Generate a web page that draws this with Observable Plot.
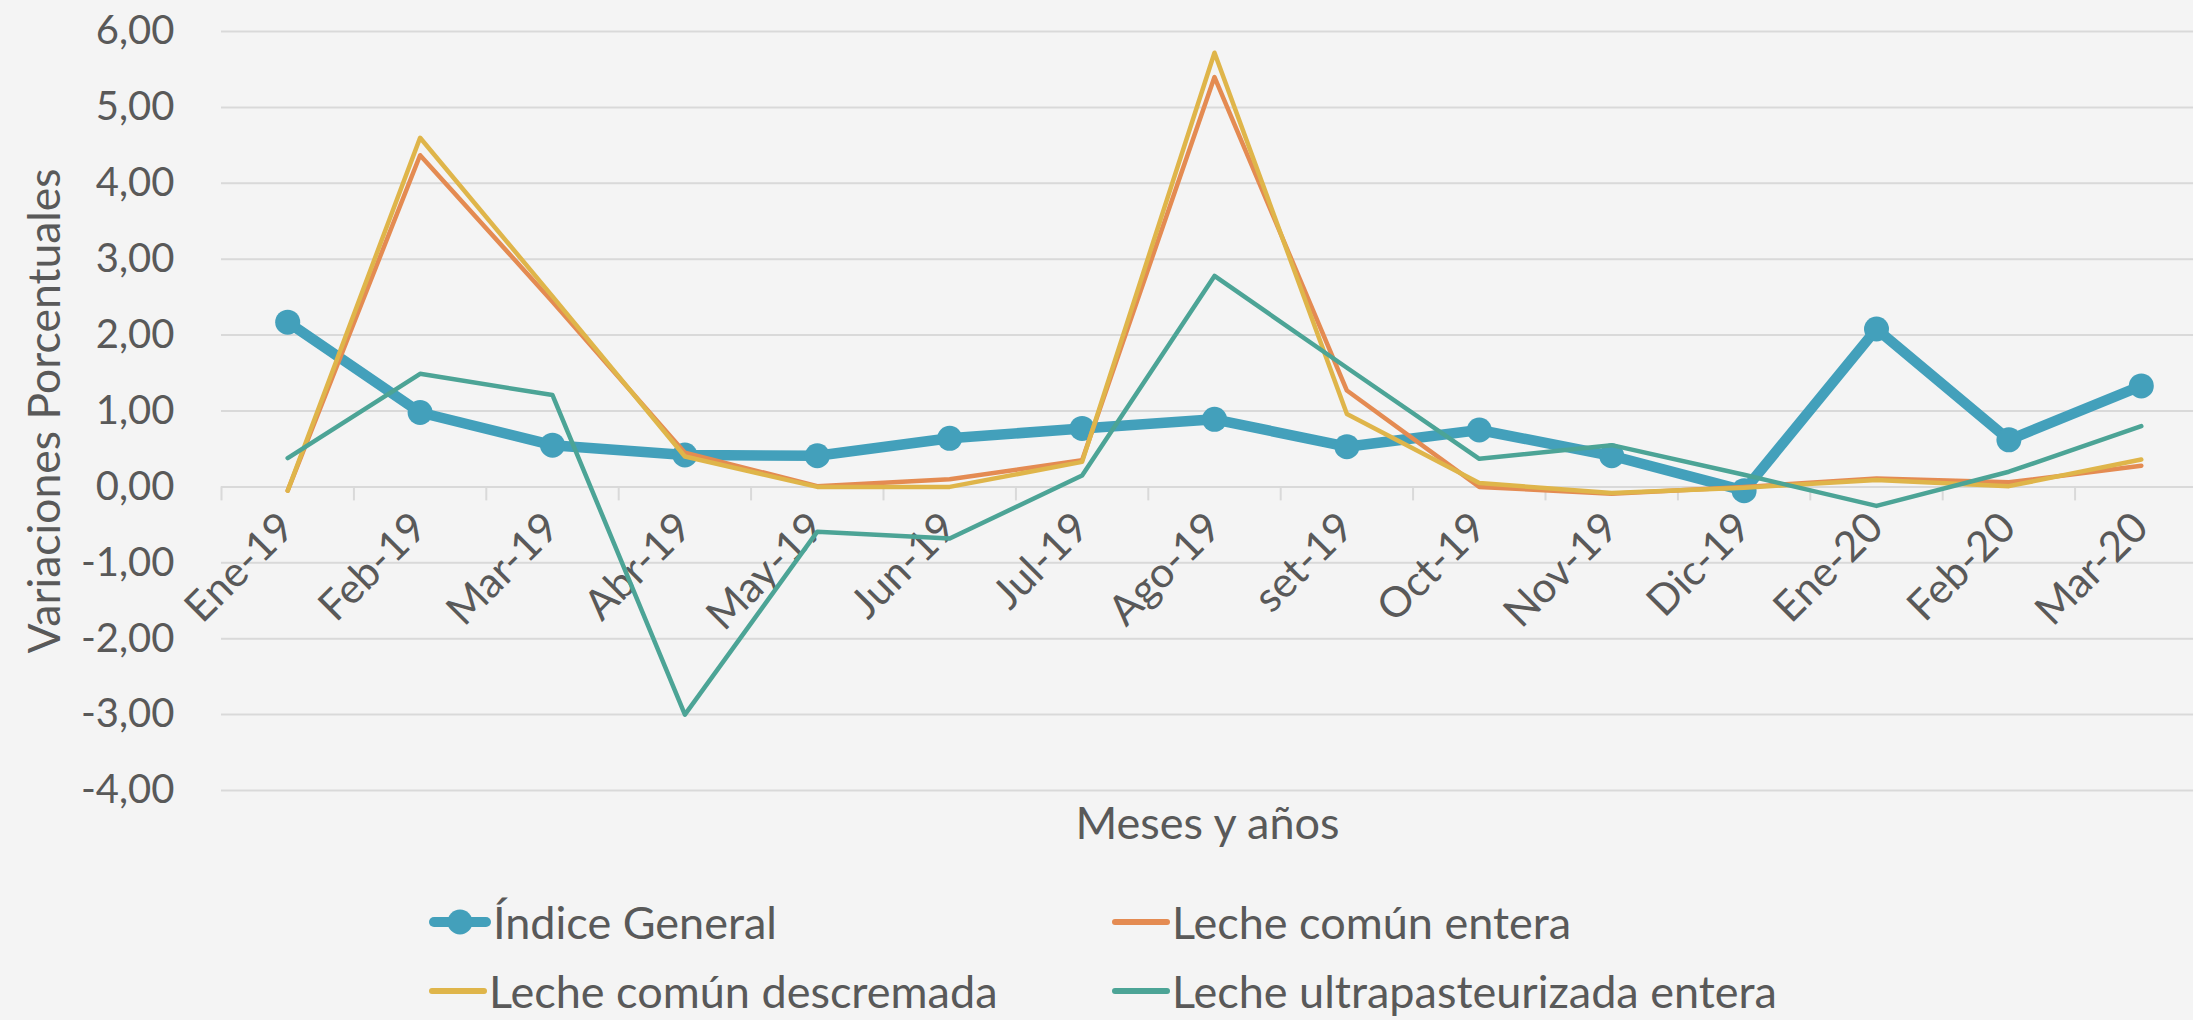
<!DOCTYPE html>
<html>
<head>
<meta charset="utf-8">
<script src="https://cdn.jsdelivr.net/npm/d3@7"></script>
<script src="https://cdn.jsdelivr.net/npm/@observablehq/plot@0.6"></script>
<style>
  html, body { margin: 0; padding: 0; background: #F4F4F4; }
  #chart { width: 2193px; height: 1020px; position: relative; overflow: hidden; font-family: Lato, "Open Sans", sans-serif; color: #595959; }
  #legend { position: relative; width: 2193px; height: 150px; }
  .item { position: absolute; height: 50px; display: flex; align-items: center; font-size: 45px; white-space: nowrap; }
  .item svg { flex: none; }
</style>
</head>
<body>
<div id="chart"></div>
<script>
// ---- data ----
const categories = ["Ene-19","Feb-19","Mar-19","Abr-19","May-19","Jun-19","Jul-19","Ago-19","set-19","Oct-19","Nov-19","Dic-19","Ene-20","Feb-20","Mar-20"];
const indiceGeneral = [2.17, 0.98, 0.55, 0.42, 0.41, 0.64, 0.77, 0.89, 0.53, 0.75, 0.41, -0.05, 2.08, 0.62, 1.33];
const lecheComunEntera = [-0.05, 4.37, 2.44, 0.45, 0.01, 0.10, 0.35, 5.40, 1.27, 0.00, -0.09, 0.00, 0.11, 0.06, 0.28];
const lecheComunDescremada = [-0.05, 4.60, 2.51, 0.40, 0.00, 0.00, 0.33, 5.72, 0.96, 0.05, -0.08, -0.01, 0.09, 0.01, 0.36];
const lecheUltraEntera = [0.38, 1.49, 1.21, -3.00, -0.59, -0.68, 0.15, 2.78, 1.57, 0.37, 0.55, 0.16, -0.25, 0.20, 0.80];
const seriesNames = ["Índice General", "Leche común entera", "Leche común descremada", "Leche ultrapasteurizada entera"];
const yTicks = [-4, -3, -2, -1, 0, 1, 2, 3, 4, 5, 6];
const yTitle = "Variaciones Porcentuales";
const xTitle = "Meses y años";

// ---- styles ----
const colors = ["#43A0BB", "#E48B52", "#DFB54A", "#4CA496"];
const gridColor = "#D9D9D9";
const textColor = "#595959";

const fmt = d => d.toFixed(2).replace(".", ",");
const idx = (d, i) => i;
const boundaries = d3.range(categories.length + 1).map(i => i - 0.5);

const thinLine = (values, color) => Plot.line(values, {x: idx, y: d => d, stroke: color, strokeWidth: 4.5, strokeLinejoin: "round", strokeLinecap: "round"});

const chart = Plot.plot({
  width: 2193,
  height: 870,
  marginTop: 31,
  marginBottom: 80,
  marginLeft: 221,
  marginRight: 0,
  style: {background: "transparent", fontFamily: "Lato, 'Open Sans', sans-serif", color: textColor, overflow: "visible"},
  x: {type: "linear", domain: [-0.5, categories.length - 0.5], range: [221, 2207], axis: null},
  y: {domain: [-4, 6], axis: null},
  marks: [
    Plot.gridY(yTicks, {stroke: gridColor, strokeOpacity: 1, strokeWidth: 2}),
    Plot.axisY(yTicks, {tickSize: 0, tickPadding: 47, tickFormat: fmt, fontSize: 40, label: null}),
    Plot.ruleX(boundaries, {x: d => d, y1: () => 0, y2: () => 0, insetBottom: -14, stroke: gridColor, strokeWidth: 2}),
    Plot.text(categories, {x: idx, y: () => 0, text: d => d, rotate: -45, textAnchor: "end", lineAnchor: "top", dx: -12, dy: 22, fontSize: 42, fill: textColor}),
    Plot.text([yTitle], {frameAnchor: "left", textAnchor: "middle", rotate: -90, dx: -176, text: d => d, fontSize: 44.5, fill: textColor}),
    Plot.text([xTitle], {frameAnchor: "bottom", dy: 48, text: d => d, fontSize: 45, fill: textColor}),
    Plot.line(indiceGeneral, {x: idx, y: d => d, stroke: colors[0], strokeWidth: 10.5, strokeLinejoin: "round", strokeLinecap: "round"}),
    Plot.dot(indiceGeneral, {x: idx, y: d => d, r: 12.5, fill: colors[0], stroke: "none"}),
    thinLine(lecheComunEntera, colors[1]),
    thinLine(lecheComunDescremada, colors[2]),
    thinLine(lecheUltraEntera, colors[3])
  ]
});

const root = document.getElementById("chart");
root.appendChild(chart);

// ---- legend ----
const legend = d3.select(root).append("div").attr("id", "legend");
const legendPos = [[429, 27], [1112, 27], [429, 96], [1112, 96]];
seriesNames.forEach((name, i) => {
  const item = legend.append("div").attr("class", "item")
    .style("left", legendPos[i][0] + "px").style("top", legendPos[i][1] + "px");
  const w = i === 0 ? 64 : 60;
  const svg = item.append("svg").attr("width", w).attr("height", 30);
  if (i === 0) {
    svg.append("line").attr("x1", 5).attr("x2", 57).attr("y1", 15).attr("y2", 15)
      .attr("stroke", colors[0]).attr("stroke-width", 10).attr("stroke-linecap", "round");
    svg.append("circle").attr("cx", 31).attr("cy", 15).attr("r", 12.5).attr("fill", colors[0]);
  } else {
    svg.append("line").attr("x1", 3).attr("x2", 55).attr("y1", 15).attr("y2", 15)
      .attr("stroke", colors[i]).attr("stroke-width", 6).attr("stroke-linecap", "round");
  }
  item.append("span").text(name);
});
</script>
</body>
</html>
